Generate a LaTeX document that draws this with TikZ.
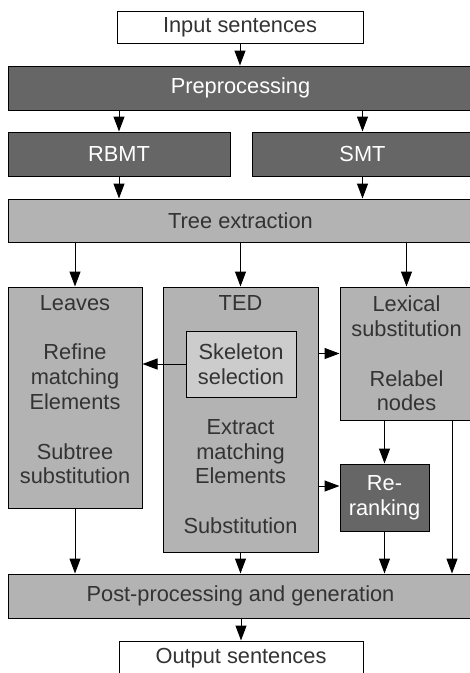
\documentclass[tikz,border=0pt]{standalone}
\usepackage{fontspec}
\setmainfont{Liberation Sans}
\usetikzlibrary{arrows.meta}
\definecolor{dk}{HTML}{666666}
\definecolor{lg}{HTML}{B3B3B3}
\definecolor{sk}{HTML}{CCCCCC}
\definecolor{txt}{HTML}{333333}
\newcommand{\fs}{\fontsize{21.8}{24.8}\selectfont}
\tikzset{
  box/.style={draw=black, line width=1pt, rectangle, inner sep=0pt, font=\fs, text=txt, align=center},
  darkbox/.style={box, fill=dk, text=white},
  lightbox/.style={box, fill=lg},
  skelbox/.style={box, fill=sk},
  whitebox/.style={box, fill=white},
  lbl/.style={inner sep=0pt, font=\fs, text=txt, align=center, anchor=north},
  arr/.style={draw=black, line width=1pt, -{Triangle[length=15pt,width=11pt]}}
}
\begin{document}
\begin{tikzpicture}[x=1pt,y=-1pt]
\useasboundingbox (0,0) rectangle (470,673);
% boxes
\node[whitebox, minimum width=246, minimum height=32] (inp) at (240,27) {Input sentences};
\node[darkbox, minimum width=465, minimum height=44] (prep) at (240.5,88) {Preprocessing};
\node[darkbox, minimum width=222, minimum height=44] (rbmt) at (119,154) {RBMT};
\node[darkbox, minimum width=221, minimum height=44] (smt) at (362.5,154) {SMT};
\node[lightbox, minimum width=465, minimum height=43] (tree) at (240.5,220.5) {Tree extraction};
\node[lightbox, minimum width=134, minimum height=221] (leaves) at (75,397.5) {};
\node[lightbox, minimum width=155, minimum height=265] (ted) at (240.5,419.5) {};
\node[lightbox, minimum width=133, minimum height=133] (lex) at (406.5,353.5) {Lexical\\substitution\\[24.8pt]Relabel\\nodes};
\node[skelbox, minimum width=110, minimum height=66] (skel) at (241,364) {Skeleton\\selection};
\node[darkbox, minimum width=89, minimum height=67] (rr) at (384.5,497.5) {Re-\\ranking};
\node[lightbox, minimum width=465, minimum height=44] (post) at (240.5,596) {Post-processing and generation};
\node[whitebox, minimum width=244, minimum height=34] (out) at (241,658) {Output sentences};
% texts in tall boxes
\node[lbl] (leavestxt) at (75,295) {Leaves\\[24.8pt]Refine\\matching\\Elements\\[24.8pt]Subtree\\substitution};
\node[lbl] (tedtxt) at (240.5,295) {TED};
\node[lbl] (tedtxt2) at (240.5,419) {Extract\\matching\\Elements\\[24.8pt]Substitution};
% helper coordinates
\coordinate (xr) at (452,0);
\coordinate (yr) at (0,486);
% connectors
\draw[arr] (inp.south) -- (prep.north -| inp.south);
\draw[arr] (prep.south -| rbmt.north) -- (rbmt.north);
\draw[arr] (prep.south -| smt.north) -- (smt.north);
\draw[arr] (rbmt.south) -- (tree.north -| rbmt.south);
\draw[arr] (smt.south) -- (tree.north -| smt.south);
\draw[arr] (tree.south -| leaves.north) -- (leaves.north);
\draw[arr] (tree.south -| ted.north) -- (ted.north);
\draw[arr] (tree.south -| lex.north) -- (lex.north);
\draw[arr] (skel.west) -- (leaves.east |- skel.west);
\draw[arr] (ted.east |- lex.west) -- (lex.west);
\draw[arr] (ted.east |- yr) -- (rr.west |- yr);
\draw[arr] (lex.south -| rr.north) -- (rr.north);
\draw[arr] (leaves.south) -- (post.north -| leaves.south);
\draw[arr] (ted.south) -- (post.north -| ted.south);
\draw[arr] (rr.south) -- (post.north -| rr.south);
\draw[arr] (lex.south -| xr) -- (post.north -| xr);
\draw[arr] (post.south -| out.north) -- (out.north);
\end{tikzpicture}
\end{document}
